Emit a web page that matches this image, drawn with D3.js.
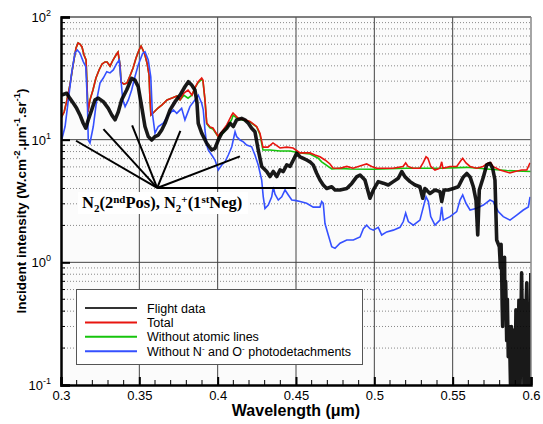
<!DOCTYPE html>
<html>
<head>
<meta charset="utf-8">
<script src="https://cdn.jsdelivr.net/npm/d3@7"></script>
<style>
  body { margin: 0; background: #fff; }
  text { font-family: "Liberation Sans", Arial, sans-serif; }
</style>
</head>
<body>
<div id="chart"></div>
<script>
// flight data, [wavelength (um), intensity]
const flightData = [
  [0.3004,23.1],[0.3036,23.9],[0.3057,21.7],[0.3079,19.8],[0.31,18.0],[0.3121,15.9],[0.3142,13.6],[0.3158,12.4],
  [0.3174,14.5],[0.3196,17.5],[0.3217,21.1],[0.3238,21.8],[0.327,20.4],[0.3302,18.0],[0.3324,15.9],[0.3345,14.5],
  [0.3366,16.9],[0.3387,21.1],[0.3419,25.4],[0.3451,31.6],[0.3472,30.6],[0.3493,27.0],[0.3515,18.6],[0.3536,12.8],
  [0.3557,10.6],[0.3579,9.94],[0.36,10.6],[0.3621,10.9],[0.3643,12.0],[0.3664,13.6],[0.3696,17.5],[0.3728,20.4],
  [0.376,23.1],[0.3791,27.0],[0.3813,29.7],[0.3834,27.9],[0.3855,25.4],[0.3868,19.9],[0.3876,13.6],[0.3898,11.3],
  [0.393,9.35],[0.3962,8.24],[0.3983,8.5],[0.4004,9.94],[0.4026,11.3],[0.4058,12.4],[0.4079,13.6],[0.41,12.8],
  [0.4121,14.5],[0.4153,14.9],[0.4174,14.5],[0.4196,13.6],[0.4217,12.4],[0.4238,11.6],[0.4259,8.24],[0.4281,6.05],
  [0.4313,5.5],[0.4334,5.0],[0.4355,5.5],[0.4377,5.0],[0.4398,5.66],[0.4419,5.5],[0.4441,6.22],[0.4462,6.05],
  [0.4483,6.83],[0.4504,7.75],[0.4526,7.25],[0.4547,7.05],[0.4568,6.83],[0.4589,6.6],[0.461,6.22],[0.4632,5.33],
  [0.4653,4.69],[0.4674,4.27],[0.4696,4.0],[0.4728,4.13],[0.4749,3.89],[0.4781,3.89],[0.4824,4.0],[0.4856,4.4],
  [0.4887,4.97],[0.4909,5.15],[0.494,4.69],[0.4972,3.33],[0.4994,3.89],[0.5025,4.55],[0.5057,4.42],[0.5089,4.27],
  [0.5121,4.55],[0.5153,4.85],[0.5175,5.5],[0.5196,4.97],[0.5228,4.55],[0.526,4.27],[0.5291,4.13],[0.5309,3.33],
  [0.5323,4.0],[0.5355,3.64],[0.5387,3.89],[0.5419,3.77],[0.543,3.13],[0.5445,3.89],[0.5472,3.89],[0.5504,4.0],
  [0.5536,4.13],[0.5568,4.97],[0.559,5.3],[0.5611,4.97],[0.5632,4.13],[0.5649,3.22],[0.566,1.67],[0.567,3.89],
  [0.5696,4.97],[0.5717,6.22],[0.5738,6.4],[0.5755,5.85],[0.577,4.69],[0.5781,1.52],[0.5798,1.34],[0.5805,0.9],
  [0.5809,1.4],[0.5813,0.81],[0.5816,0.45],[0.5819,0.3],[0.5823,0.9],[0.5827,0.53],[0.5831,1.1],[0.5834,0.38],
  [0.5838,0.7],[0.5845,0.23],[0.5849,0.5],[0.5855,0.17],[0.5862,0.3],[0.587,0.09],[0.5875,0.3],[0.5879,0.23],
  [0.5885,0.09],[0.5892,0.28],[0.5898,0.09],[0.5904,0.41],[0.591,0.09],[0.5917,0.19],[0.5923,0.49],[0.593,0.09],
  [0.594,0.82],[0.5945,0.28],[0.595,0.49],[0.5955,0.09],[0.5962,0.23],[0.5973,0.68],[0.5978,0.09],[0.5985,0.34],
  [0.5991,0.09],[0.5999,0.82]
];

// total
const totalData = [
  [0.3,15.0],[0.302,16.8],[0.3038,21.1],[0.3057,27.9],[0.3077,40.6],[0.3096,55.9],[0.3109,61.4],[0.3121,60.2],
  [0.3134,57.0],[0.3147,49.0],[0.316,44.6],[0.3166,27.9],[0.3172,16.8],[0.3185,21.1],[0.3204,25.4],[0.3223,31.8],
  [0.3243,37.0],[0.3262,41.4],[0.3281,43.0],[0.3294,43.0],[0.3313,39.8],[0.3332,44.6],[0.3351,49.0],[0.3364,51.8],
  [0.3377,40.6],[0.3383,29.5],[0.3402,28.4],[0.3421,28.9],[0.344,33.0],[0.346,38.4],[0.3479,46.3],[0.3498,53.8],
  [0.3511,58.0],[0.3523,53.8],[0.3536,49.0],[0.3549,42.2],[0.3562,33.7],[0.3568,21.1],[0.3574,15.9],[0.3594,16.8],
  [0.3619,18.1],[0.3645,19.2],[0.3677,21.1],[0.3709,21.9],[0.374,22.7],[0.376,21.1],[0.3785,24.0],[0.3811,25.4],
  [0.3836,23.1],[0.3855,26.4],[0.3874,29.5],[0.3898,31.8],[0.3906,30.6],[0.3919,21.1],[0.393,13.7],[0.3951,12.7],
  [0.397,12.45],[0.4002,10.7],[0.4026,11.6],[0.4058,13.2],[0.409,15.9],[0.4098,16.5],[0.413,15.0],[0.4175,14.5],
  [0.4206,14.1],[0.4249,12.8],[0.427,11.3],[0.4289,8.7],[0.4321,8.7],[0.4353,9.4],[0.4398,8.55],[0.4441,8.7],
  [0.4481,8.55],[0.4526,7.8],[0.4557,7.8],[0.4589,7.8],[0.4621,7.5],[0.4653,7.25],[0.4685,6.83],[0.4717,6.34],
  [0.4736,5.88],[0.4781,5.85],[0.4824,6.05],[0.4864,5.85],[0.4928,6.22],[0.4951,6.34],[0.4983,6.05],[0.5015,5.85],
  [0.5055,5.85],[0.5119,5.85],[0.5183,6.05],[0.52,6.46],[0.5215,6.05],[0.5247,5.85],[0.5291,5.85],[0.5311,6.46],
  [0.533,7.25],[0.5342,7.05],[0.536,6.05],[0.5387,5.66],[0.5419,5.85],[0.543,6.6],[0.5438,5.85],[0.5483,6.05],
  [0.5526,6.05],[0.5547,6.6],[0.5564,7.05],[0.5585,6.46],[0.5611,6.05],[0.5653,5.85],[0.5694,6.05],[0.5726,6.46],
  [0.5743,6.5],[0.5757,6.05],[0.5802,5.66],[0.5866,5.35],[0.5898,5.5],[0.5941,5.66],[0.5973,5.66],[0.5994,6.46]
];

// without atomic lines
const noAtomicData = [
  [0.3,15.0],[0.302,16.8],[0.3038,21.1],[0.3057,27.9],[0.3077,40.6],[0.3096,55.9],[0.3109,61.4],[0.3121,60.2],
  [0.3134,57.0],[0.3147,49.0],[0.316,44.6],[0.3166,27.9],[0.3172,16.8],[0.3185,21.1],[0.3204,25.4],[0.3223,31.8],
  [0.3243,37.0],[0.3262,41.4],[0.3281,43.0],[0.3294,43.0],[0.3313,39.8],[0.3332,44.6],[0.3351,49.0],[0.3364,51.8],
  [0.3377,40.6],[0.3383,29.5],[0.3402,28.4],[0.3421,28.9],[0.344,33.0],[0.346,38.4],[0.3479,46.3],[0.3498,53.8],
  [0.3511,58.0],[0.3523,53.8],[0.3536,49.0],[0.3549,42.2],[0.3562,33.7],[0.3568,21.1],[0.3574,15.9],[0.3594,16.8],
  [0.3619,18.1],[0.3645,19.2],[0.3677,21.1],[0.3709,21.9],[0.374,22.7],[0.376,21.1],[0.3785,23.0],[0.3811,21.8],
  [0.3836,23.1],[0.3855,26.4],[0.3874,29.0],[0.3898,31.0],[0.3906,30.0],[0.3919,21.1],[0.393,13.5],[0.3951,12.5],
  [0.397,12.2],[0.4002,10.6],[0.4026,11.0],[0.4058,12.4],[0.409,14.6],[0.4098,15.8],[0.413,14.8],[0.4175,14.3],
  [0.4206,14.0],[0.4249,12.7],[0.427,11.0],[0.4289,8.24],[0.4334,8.24],[0.4398,8.08],[0.4462,8.08],[0.4526,7.79],
  [0.4589,7.64],[0.464,7.09],[0.4664,6.6],[0.4728,5.77],[0.4781,5.83],[0.4845,5.77],[0.4991,5.74],[0.5207,5.85],
  [0.5419,5.85],[0.5589,5.95],[0.5738,5.74],[0.5845,5.6],[0.6,5.5]
];

// without N- and O- photodetachments
const noDetachData = [
  [0.3004,9.94],[0.3026,12.8],[0.3047,21.1],[0.3068,35.0],[0.3089,50.8],[0.3104,53.8],[0.3121,50.8],[0.3142,43.3],
  [0.3158,39.3],[0.3168,21.1],[0.3174,9.94],[0.3185,9.39],[0.3206,12.8],[0.3228,21.1],[0.3249,28.9],[0.327,31.8],
  [0.3292,35.8],[0.3313,35.0],[0.3334,37.0],[0.3356,41.9],[0.3372,44.6],[0.3381,32.6],[0.3394,21.1],[0.3409,18.6],
  [0.343,21.1],[0.3451,25.4],[0.3472,32.6],[0.3493,40.6],[0.3521,50.5],[0.3536,52.1],[0.3557,44.6],[0.3573,32.6],
  [0.3583,16.5],[0.36,11.3],[0.3621,12.8],[0.3653,13.6],[0.3685,15.9],[0.3717,17.5],[0.3739,16.4],[0.377,18.0],
  [0.3791,14.5],[0.3823,18.6],[0.3855,21.1],[0.3876,23.1],[0.3898,19.8],[0.3908,17.5],[0.3919,12.0],[0.393,9.05],
  [0.394,8.24],[0.3962,7.5],[0.3983,6.83],[0.4004,5.66],[0.4026,6.22],[0.4047,6.6],[0.4068,7.5],[0.409,8.75],
  [0.4111,11.6],[0.4121,10.6],[0.4143,9.94],[0.4164,9.6],[0.4185,9.05],[0.4217,8.75],[0.4238,7.5],[0.4259,6.22],
  [0.4281,4.69],[0.4291,3.42],[0.4302,2.75],[0.4323,2.93],[0.4345,3.42],[0.4355,4.11],[0.4366,3.6],[0.4387,3.22],
  [0.4409,3.42],[0.443,3.89],[0.4451,3.54],[0.4473,3.22],[0.4494,3.2],[0.4526,3.13],[0.4568,3.03],[0.461,2.82],
  [0.4653,2.82],[0.4664,3.13],[0.4674,3.03],[0.4685,2.07],[0.4706,1.67],[0.4728,1.34],[0.4749,1.3],[0.4781,1.43],
  [0.4824,1.52],[0.4866,1.52],[0.4909,1.61],[0.493,1.88],[0.4951,2.01],[0.4972,1.88],[0.4994,1.83],[0.5025,1.93],
  [0.5047,1.67],[0.5079,1.77],[0.5121,1.83],[0.5164,1.93],[0.5185,2.15],[0.52,2.52],[0.5217,2.15],[0.5249,2.01],
  [0.5291,2.21],[0.5313,2.83],[0.533,3.42],[0.5345,3.13],[0.536,2.36],[0.5387,2.01],[0.5419,2.21],[0.543,2.83],
  [0.544,2.21],[0.5483,2.36],[0.5526,2.59],[0.5547,3.22],[0.5564,3.54],[0.5585,3.03],[0.5611,2.67],[0.5653,2.76],
  [0.5696,2.93],[0.5738,3.22],[0.5759,3.13],[0.5791,2.59],[0.5823,2.36],[0.5866,2.21],[0.5909,2.43],[0.5951,2.67],
  [0.5983,2.83],[0.5994,3.42]
];

const xTicks = [0.3, 0.35, 0.4, 0.45, 0.5, 0.55, 0.6];
const xTickLabels = ["0.3", "0.35", "0.4", "0.45", "0.5", "0.55", "0.6"];
const yTicks = [0.1, 1, 10, 100];
const yTickExps = ["-1", "0", "1", "2"];
const legendNames = ["Flight data", "Total", "Without atomic lines", "Without N- and O- photodetachments"];
const legendColors = ["#333333", "#e8150f", "#16c40c", "#3550ff"];

// annotation: apex and fan end points in data units
const annotApex = [0.3614, 4.04];
const annotEnds = [[0.3096, 9.8], [0.3271, 12.2], [0.3454, 13.1], [0.3762, 11.8], [0.4142, 7.3], [0.45, 4.04]];

const width = 543, height = 424;
const margin = {left: 61, right: 12, top: 17, bottom: 39};

const svg = d3.select("#chart").append("svg")
  .attr("width", width)
  .attr("height", height);

const x = d3.scaleLinear().domain([0.3, 0.6]).range([margin.left, width - margin.right]);
const y = d3.scaleLog().domain([0.1, 100]).range([height - margin.bottom, margin.top]);

const x0 = x.range()[0], x1 = x.range()[1], y0 = y.range()[0], y1 = y.range()[1];

svg.append("defs").append("clipPath").attr("id", "clip")
  .append("rect").attr("x", x0).attr("y", y1).attr("width", x1 - x0).attr("height", y0 - y1);

// plot background
svg.append("rect").attr("x", x0).attr("y", y1).attr("width", x1 - x0).attr("height", y0 - y1)
  .attr("fill", "#fbfbfb");

// minor horizontal grid (dotted)
const minorY = [];
for (let d = 0.1; d < 100; d *= 10) {
  for (let k = 2; k <= 9; k++) minorY.push(d * k);
}
svg.append("g").selectAll("line").data(minorY).join("line")
  .attr("x1", x0).attr("x2", x1)
  .attr("y1", d => y(d)).attr("y2", d => y(d))
  .attr("stroke", "#888").attr("stroke-width", 1).attr("stroke-dasharray", "1,2");

// major grid
svg.append("g").selectAll("line").data([1, 10]).join("line")
  .attr("x1", x0).attr("x2", x1)
  .attr("y1", d => y(d)).attr("y2", d => y(d))
  .attr("stroke", "#444").attr("stroke-width", 1);
svg.append("g").selectAll("line").data(xTicks.slice(1, -1)).join("line")
  .attr("y1", y0).attr("y2", y1)
  .attr("x1", d => x(d)).attr("x2", d => x(d))
  .attr("stroke", "#444").attr("stroke-width", 1);

// series
const line = d3.line().x(d => x(d[0])).y(d => y(d[1]));
const plot = svg.append("g").attr("clip-path", "url(#clip)");

plot.append("path").datum(noAtomicData).attr("d", line)
  .attr("fill", "none").attr("stroke", legendColors[2]).attr("stroke-width", 1.6);
plot.append("path").datum(totalData).attr("d", line)
  .attr("fill", "none").attr("stroke", legendColors[1]).attr("stroke-width", 1.6);
plot.append("path").datum(noDetachData).attr("d", line)
  .attr("fill", "none").attr("stroke", legendColors[3]).attr("stroke-width", 1.6);
plot.append("path").datum(flightData).attr("d", line)
  .attr("fill", "none").attr("stroke", "#000").attr("stroke-width", 3.6)
  .attr("stroke-linejoin", "round").attr("opacity", 0.9);

// annotation lines
const annot = svg.append("g");
annot.selectAll("line").data(annotEnds).join("line")
  .attr("x1", x(annotApex[0])).attr("y1", y(annotApex[1]))
  .attr("x2", d => x(d[0])).attr("y2", d => y(d[1]))
  .attr("stroke", "#000").attr("stroke-width", 2);

annot.append("rect")
  .attr("x", 78).attr("y", 192).attr("width", 170).attr("height", 22)
  .attr("fill", "#fff");

const lab = annot.append("text")
  .attr("x", 82).attr("y", 208)
  .style("font-family", "'Liberation Serif', 'Times New Roman', serif")
  .style("font-weight", "bold")
  .style("font-size", "16.5px");
const parts = [
  ["N", 0, 0], ["2", 4, 1], ["(2", -4, 0], ["nd", -5, 1], ["Pos), N", 5, 0], ["2", 4, 1], ["+", -9, 1], ["(1", 5, 0], ["st", -5, 1], ["Neg)", 5, 0]
];
parts.forEach(([t, dy, small]) => {
  lab.append("tspan").attr("dy", dy).style("font-size", small ? "11px" : "16.5px").text(t);
});

// frame
svg.append("line").attr("x1", x0).attr("x2", x1).attr("y1", y1).attr("y2", y1)
  .attr("stroke", "#555").attr("stroke-width", 1.5);
svg.append("line").attr("x1", x1).attr("x2", x1).attr("y1", y1).attr("y2", y0)
  .attr("stroke", "#888").attr("stroke-width", 1.5);

// x axis
const xAxis = svg.append("g").attr("transform", `translate(0,${y0})`)
  .call(d3.axisBottom(x).tickValues(xTicks).tickSize(-8).tickPadding(6)
    .tickFormat((d, i) => xTickLabels[i]));
xAxis.select(".domain").attr("stroke", "#000").attr("stroke-width", 2.5);
xAxis.selectAll(".tick line").attr("stroke", "#000").attr("stroke-width", 2);
xAxis.selectAll("text").attr("fill", "#000").style("font-size", "13px")
  .style("font-family", "'Liberation Sans', Arial, sans-serif");

const minorX = d3.range(31, 60).filter(k => k % 5 !== 0).map(k => k / 100);
svg.append("g").selectAll("line").data(minorX).join("line")
  .attr("x1", d => x(d)).attr("x2", d => x(d))
  .attr("y1", y0).attr("y2", y0 - 5)
  .attr("stroke", "#000").attr("stroke-width", 1);

// y axis
const yAxis = svg.append("g").attr("transform", `translate(${x0},0)`)
  .call(d3.axisLeft(y).tickValues(yTicks).tickSize(-9).tickFormat(""));
yAxis.select(".domain").attr("stroke", "#000").attr("stroke-width", 2.5);
yAxis.selectAll(".tick line").attr("stroke", "#000").attr("stroke-width", 2);

svg.append("g").selectAll("line").data(minorY).join("line")
  .attr("x1", x0).attr("x2", x0 + 4)
  .attr("y1", d => y(d)).attr("y2", d => y(d))
  .attr("stroke", "#000").attr("stroke-width", 1);

yTicks.forEach((v, i) => {
  const t = svg.append("text")
    .attr("x", x0 - 10).attr("y", y(v) + 5)
    .attr("text-anchor", "end")
    .style("font-size", "13px");
  t.append("tspan").text("10");
  t.append("tspan").attr("dy", -6).style("font-size", "9px").text(yTickExps[i]);
});

// axis titles
svg.append("text")
  .attr("x", 296).attr("y", 416)
  .attr("text-anchor", "middle")
  .style("font-size", "16px").style("font-weight", "bold")
  .text("Wavelength (\u03bcm)");

const yt = svg.append("text")
  .attr("transform", `translate(26,${(y0 + y1) / 2}) rotate(-90)`)
  .attr("text-anchor", "middle")
  .style("font-size", "13.5px").style("font-weight", "bold");
yt.append("tspan").text("Incident intensity (W.cm");
yt.append("tspan").attr("dy", -6).style("font-size", "9.5px").text("-2");
yt.append("tspan").attr("dy", 6).text(".\u03bcm");
yt.append("tspan").attr("dy", -6).style("font-size", "9.5px").text("-1");
yt.append("tspan").attr("dy", 6).text(".sr");
yt.append("tspan").attr("dy", -6).style("font-size", "9.5px").text("-1");
yt.append("tspan").attr("dy", 6).text(")");

// legend
const lg = svg.append("g");
lg.append("rect").attr("x", 76.5).attr("y", 289.5).attr("width", 286).attr("height", 75)
  .attr("fill", "#fff").attr("stroke", "#555").attr("stroke-width", 1);
legendNames.forEach((name, i) => {
  const ly = 308 + i * 14.4;
  lg.append("line").attr("x1", 85).attr("x2", 137).attr("y1", ly).attr("y2", ly)
    .attr("stroke", legendColors[i]).attr("stroke-width", 2);
  const t = lg.append("text").attr("x", 147).attr("y", ly + 4.5)
    .style("font-size", "12.5px").attr("fill", "#000");
  if (i === 3) {
    t.append("tspan").text("Without N");
    t.append("tspan").attr("dy", -5).style("font-size", "8px").text("-");
    t.append("tspan").attr("dy", 5).text(" and O");
    t.append("tspan").attr("dy", -5).style("font-size", "8px").text("-");
    t.append("tspan").attr("dy", 5).text(" photodetachments");
  } else {
    t.text(name);
  }
});
</script>
</body>
</html>
